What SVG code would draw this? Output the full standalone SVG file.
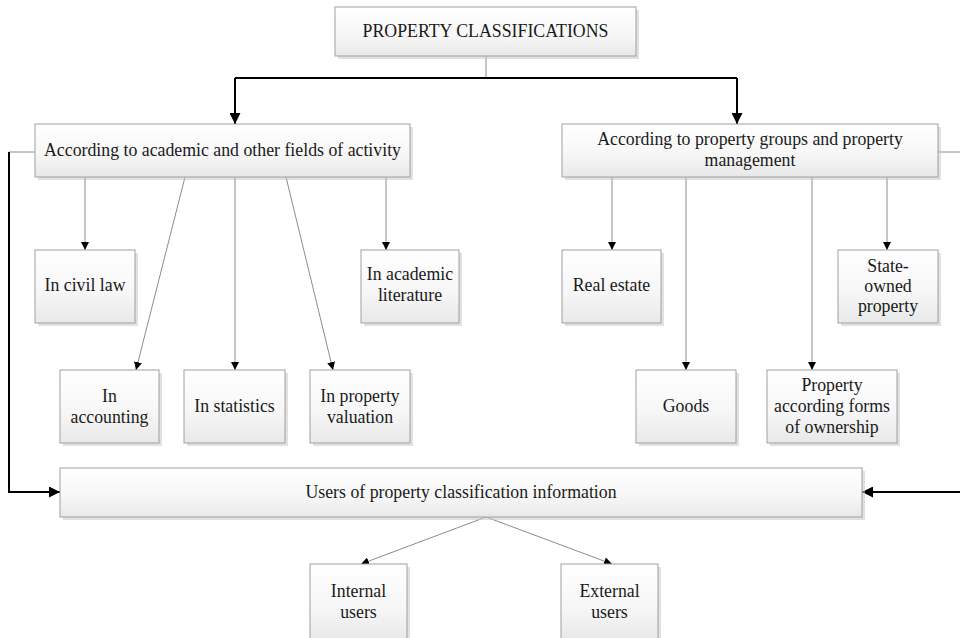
<svg xmlns="http://www.w3.org/2000/svg" width="960" height="638" viewBox="0 0 960 638">
<defs>
<linearGradient id="g" x1="0" y1="0" x2="0" y2="1">
<stop offset="0" stop-color="#ffffff"/>
<stop offset="0.6" stop-color="#f6f6f6"/>
<stop offset="1" stop-color="#e8e8e8"/>
</linearGradient>
<marker id="a" viewBox="0 0 10 10" refX="10" refY="5" markerWidth="8" markerHeight="8" markerUnits="userSpaceOnUse" orient="auto">
<path d="M0,0 L10,5 L0,10 z" fill="#000"/>
</marker>
<marker id="ab" viewBox="0 0 10 10" refX="10" refY="5" markerWidth="11" markerHeight="11" markerUnits="userSpaceOnUse" orient="auto">
<path d="M0,0 L10,5 L0,10 z" fill="#000"/>
</marker>
</defs>
<style>
.box{fill:url(#g);stroke:#a0a0a0;stroke-width:1}
.sh{fill:#c8c8c8;opacity:0.55}
text{font-family:"Liberation Serif","Times New Roman",serif;font-size:17.8px;fill:#1a1a1a;text-anchor:middle}
.thin{fill:none;stroke:#8c8c8c;stroke-width:1}
.thick{fill:none;stroke:#000;stroke-width:2}
</style>
<g id="connectors">
<path class="thin" d="M486,56 V78"/>
<path class="thick" d="M235,78 H737"/>
<path class="thick" d="M235,78 V124" marker-end="url(#ab)"/>
<path class="thick" d="M737,78 V124" marker-end="url(#ab)"/>
<path class="thin" d="M85,177 V250" marker-end="url(#a)"/>
<path class="thin" d="M185,177 L136,370" marker-end="url(#a)"/>
<path class="thin" d="M235,177 V370" marker-end="url(#a)"/>
<path class="thin" d="M286,177 L333,370" marker-end="url(#a)"/>
<path class="thin" d="M386,177 V250" marker-end="url(#a)"/>
<path class="thin" d="M612,177 V250" marker-end="url(#a)"/>
<path class="thin" d="M686,177 V370" marker-end="url(#a)"/>
<path class="thin" d="M812,177 V370" marker-end="url(#a)"/>
<path class="thin" d="M887,177 V250" marker-end="url(#a)"/>
<path class="thin" d="M35,152 H9"/>
<path class="thick" d="M9,152 V492 H60" marker-end="url(#ab)"/>
<path class="thin" d="M938,152 H960"/>
<path class="thick" d="M961,492 H862" marker-end="url(#ab)"/>
<path class="thin" d="M486,517 L361,564" marker-end="url(#a)"/>
<path class="thin" d="M486,517 L612,564" marker-end="url(#a)"/>
</g>
<g id="n-top">
<rect class="sh" x="338" y="10" width="301" height="49"/>
<rect class="box" x="335" y="7" width="301" height="49"/>
<text x="485.5" y="37">PROPERTY CLASSIFICATIONS</text>
</g>
<g id="n-academic">
<rect class="sh" x="38" y="127" width="375" height="53"/>
<rect class="box" x="35" y="124" width="375" height="53"/>
<text x="222.5" y="156">According to academic and other fields of activity</text>
</g>
<g id="n-groups">
<rect class="sh" x="565" y="127" width="376" height="53"/>
<rect class="box" x="562" y="124" width="376" height="53"/>
<text x="750" y="145">According to property groups and property</text>
<text x="750" y="166">management</text>
</g>
<g id="n-civil">
<rect class="sh" x="38" y="253" width="100" height="73"/>
<rect class="box" x="35" y="250" width="100" height="73"/>
<text x="85" y="291">In civil law</text>
</g>
<g id="n-literature">
<rect class="sh" x="364" y="253" width="98" height="73"/>
<rect class="box" x="361" y="250" width="98" height="73"/>
<text x="410" y="280">In academic</text>
<text x="410" y="301">literature</text>
</g>
<g id="n-accounting">
<rect class="sh" x="63" y="373" width="99" height="73"/>
<rect class="box" x="60" y="370" width="99" height="73"/>
<text x="109.5" y="402">In</text>
<text x="109.5" y="423">accounting</text>
</g>
<g id="n-statistics">
<rect class="sh" x="187" y="373" width="101" height="73"/>
<rect class="box" x="184" y="370" width="101" height="73"/>
<text x="234.5" y="412">In statistics</text>
</g>
<g id="n-valuation">
<rect class="sh" x="313" y="373" width="100" height="73"/>
<rect class="box" x="310" y="370" width="100" height="73"/>
<text x="360" y="402">In property</text>
<text x="360" y="423">valuation</text>
</g>
<g id="n-realestate">
<rect class="sh" x="565" y="253" width="99" height="73"/>
<rect class="box" x="562" y="250" width="99" height="73"/>
<text x="611.5" y="291">Real estate</text>
</g>
<g id="n-stateowned">
<rect class="sh" x="841" y="253" width="100" height="73"/>
<rect class="box" x="838" y="250" width="100" height="73"/>
<text x="888" y="272">State-</text>
<text x="888" y="292">owned</text>
<text x="888" y="312">property</text>
</g>
<g id="n-goods">
<rect class="sh" x="639" y="373" width="100" height="73"/>
<rect class="box" x="636" y="370" width="100" height="73"/>
<text x="686" y="412">Goods</text>
</g>
<g id="n-ownership">
<rect class="sh" x="770" y="373" width="130" height="73"/>
<rect class="box" x="767" y="370" width="130" height="73"/>
<text x="832" y="391">Property</text>
<text x="832" y="412">according forms</text>
<text x="832" y="433">of ownership</text>
</g>
<g id="n-users">
<rect class="sh" x="63" y="471" width="802" height="49"/>
<rect class="box" x="60" y="468" width="802" height="49"/>
<text x="461" y="498">Users of property classification information</text>
</g>
<g id="n-internal">
<rect class="sh" x="313" y="567" width="97" height="76"/>
<rect class="box" x="310" y="564" width="97" height="76"/>
<text x="358.5" y="597">Internal</text>
<text x="358.5" y="618">users</text>
</g>
<g id="n-external">
<rect class="sh" x="564" y="567" width="97" height="76"/>
<rect class="box" x="561" y="564" width="97" height="76"/>
<text x="609.5" y="597">External</text>
<text x="609.5" y="618">users</text>
</g>
</svg>
